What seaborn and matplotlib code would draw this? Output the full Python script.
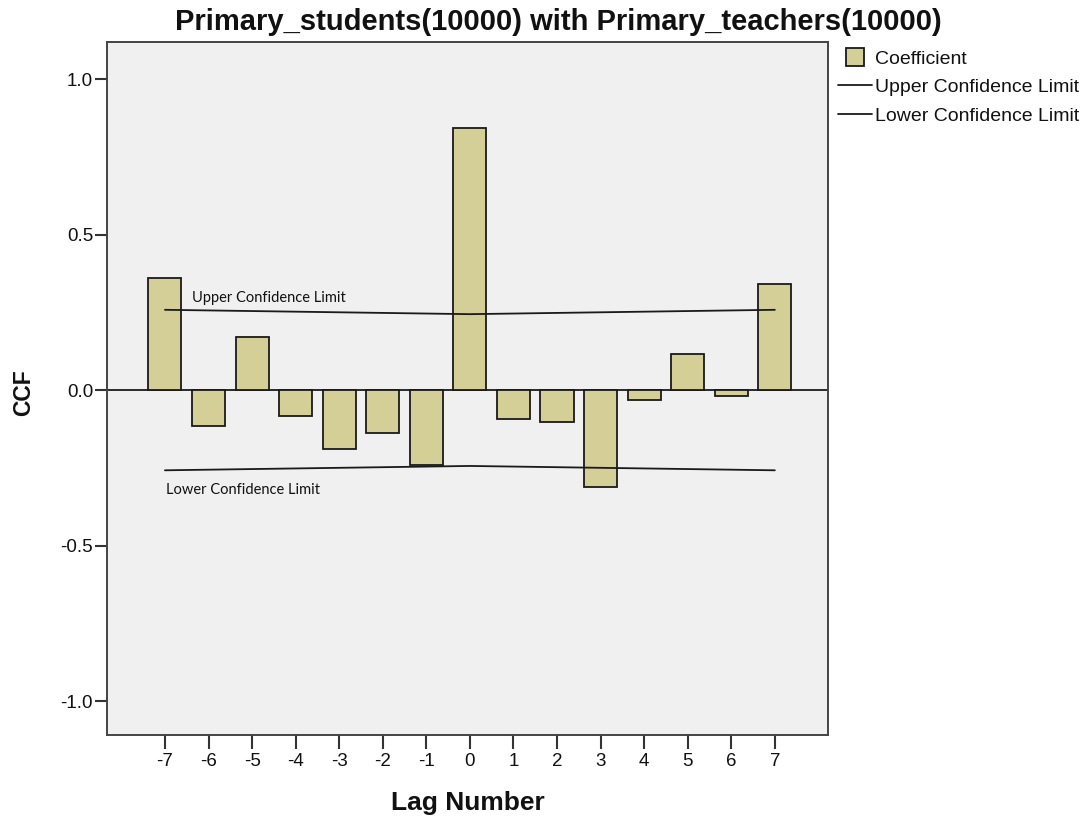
import matplotlib
matplotlib.use("Agg")
import matplotlib.pyplot as plt
import seaborn as sns
import pandas as pd
from matplotlib.lines import Line2D

lags = [-7, -6, -5, -4, -3, -2, -1, 0, 1, 2, 3, 4, 5, 6, 7]
coefficient = [0.360, -0.115, 0.172, -0.085, -0.188, -0.138, -0.242, 0.842,
               -0.093, -0.102, -0.311, -0.032, 0.116, -0.020, 0.341]
upper_limit = [0.258, 0.256, 0.254, 0.252, 0.250, 0.248, 0.246, 0.244,
               0.246, 0.248, 0.250, 0.252, 0.254, 0.256, 0.258]
lower_limit = [-0.258, -0.256, -0.254, -0.252, -0.250, -0.248, -0.246, -0.244,
               -0.246, -0.248, -0.250, -0.252, -0.254, -0.256, -0.258]
y_ticks = [-1.0, -0.5, 0.0, 0.5, 1.0]
y_tick_labels = ["-1.0", "-0.5", "0.0", "0.5", "1.0"]

df = pd.DataFrame({"lag": lags, "coef": coefficient,
                   "upper": upper_limit, "lower": lower_limit})

sns.set_theme(style="white")
plt.rcParams['font.family'] = ['Liberation Sans', 'DejaVu Sans']

W, H = 1088, 818
fig = plt.figure(figsize=(W / 100, H / 100), dpi=100)
ax = fig.add_axes([107/W, 1-735/H, (828-107)/W, (735-42)/H])
ax.set_facecolor("#F0F0F0")

bar_color = "#D4CF96"
edge = "#1a1a1a"
sns.barplot(data=df, x="lag", y="coef", native_scale=True, width=0.76,
            color=bar_color, edgecolor=edge, linewidth=1.3,
            saturation=1, ax=ax, zorder=2)
sns.lineplot(data=df, x="lag", y="upper", color=edge, linewidth=1.3, ax=ax, zorder=3)
sns.lineplot(data=df, x="lag", y="lower", color=edge, linewidth=1.3, ax=ax, zorder=3)
ax.axhline(0, color=edge, linewidth=1.3, zorder=1)

ax.set_xlim(-8.33, 8.22)
ax.set_ylim(-1.109, 1.119)
ax.set_xticks(lags)
ax.set_xticklabels([str(v) for v in lags], fontsize=13.5)
ax.set_yticks(y_ticks)
ax.set_yticklabels(y_tick_labels, fontsize=13.5)
ax.tick_params(axis="x", bottom=True, direction="out", length=10, width=1.5,
               color="#333333", pad=3, labelcolor="#111111")
ax.tick_params(axis="y", left=True, direction="out", length=9, width=1.5,
               color="#333333", pad=1, labelcolor="#111111")
for s in ax.spines.values():
    s.set_color("#444444")
    s.set_linewidth(1.4)

ax.set_xlabel("Lag Number", fontsize=19, fontweight="bold", color="#111111")
ax.xaxis.label.set_va("baseline")
ax.xaxis.set_label_coords(0.5, (735 - 810) / 693)
ax.set_ylabel("CCF", fontsize=16.5, fontweight="bold", color="#111111")
ax.yaxis.label.set_va("center")
ax.yaxis.set_label_coords((24 - 107) / 721, (735 - 393) / 693)

fig.text(558 / W, 1 - 30 / H, "Primary_students(10000) with Primary_teachers(10000)",
         fontsize=21, fontweight="bold", ha="center", va="baseline", color="#111111")

ax.text(-6.38, 0.284, "Upper Confidence Limit", fontsize=10.5,
        family=["Lato", "DejaVu Sans"], ha="left", va="baseline", color="#111111")
ax.text(-6.98, -0.334, "Lower Confidence Limit", fontsize=10.5,
        family=["Lato", "DejaVu Sans"], ha="left", va="baseline", color="#111111")

handles = [Line2D([0], [0], marker="s", linestyle="none", markersize=13,
                  markerfacecolor=bar_color, markeredgecolor=edge, markeredgewidth=1.3),
           Line2D([0], [0], color=edge, linewidth=1.3),
           Line2D([0], [0], color=edge, linewidth=1.3)]
labels = ["Coefficient", "Upper Confidence Limit", "Lower Confidence Limit"]
fig.legend(handles, labels, loc="upper left", bbox_to_anchor=(838 / W, 1 - 50 / H),
           frameon=False, fontsize=14, handlelength=1.75, handletextpad=0.15,
           labelspacing=0.56, borderaxespad=0, borderpad=0, labelcolor="#111111")

fig.savefig("out.png", dpi=100, facecolor="white")
